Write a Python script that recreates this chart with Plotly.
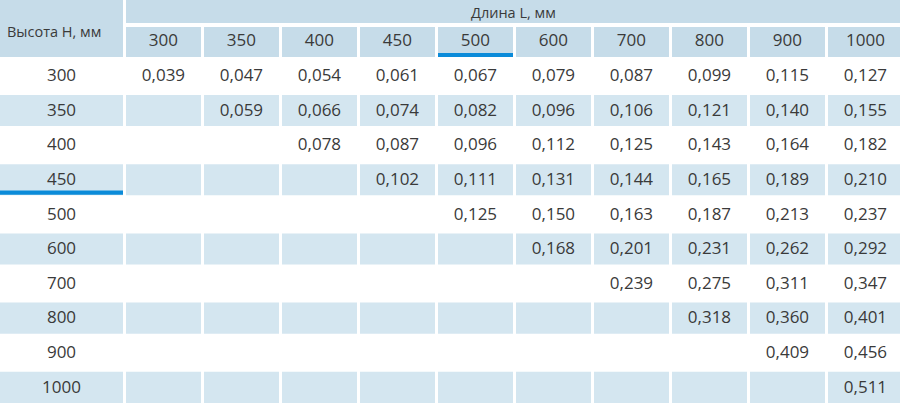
import plotly.graph_objects as go

# Data: mass table, height H (rows) x length L (columns), mm
heights = [300, 350, 400, 450, 500, 600, 700, 800, 900, 1000]
lengths = [300, 350, 400, 450, 500, 600, 700, 800, 900, 1000]

r300 = [0.039, 0.047, 0.054, 0.061, 0.067, 0.079, 0.087, 0.099, 0.115, 0.127]
r350 = [None, 0.059, 0.066, 0.074, 0.082, 0.096, 0.106, 0.121, 0.140, 0.155]
r400 = [None, None, 0.078, 0.087, 0.096, 0.112, 0.125, 0.143, 0.164, 0.182]
r450 = [None, None, None, 0.102, 0.111, 0.131, 0.144, 0.165, 0.189, 0.210]
r500 = [None, None, None, None, 0.125, 0.150, 0.163, 0.187, 0.213, 0.237]
r600 = [None, None, None, None, None, 0.168, 0.201, 0.231, 0.262, 0.292]
r700 = [None, None, None, None, None, None, 0.239, 0.275, 0.311, 0.347]
r800 = [None, None, None, None, None, None, None, 0.318, 0.360, 0.401]
r900 = [None, None, None, None, None, None, None, None, 0.409, 0.456]
r1000 = [None, None, None, None, None, None, None, None, None, 0.511]
rows = [r300, r350, r400, r450, r500, r600, r700, r800, r900, r1000]

row_title = "Высота H, мм"
col_title = "Длина L, мм"
marked_height = 450
marked_length = 500

# layout (pixel sizes -> axis units)
PX_X = 78.0     # column pitch
PX_Y = 34.6     # row pitch
LABEL_W = 126   # label column incl. gap
HEAD_H = 59     # header block height
HEAD_BLUE = "#c6dce9"
BODY_BLUE = "#d4e6f0"
ACCENT = "#0b8bd9"
TEXT = "#3a3a3a"
FONT = "Open Sans"
NUM_SIZE = 17

x0 = -LABEL_W / PX_X
y0 = -HEAD_H / PX_Y
gx = 3 / PX_X


def py(p):
    return (p - HEAD_H) / PX_Y


fig = go.Figure()


def rect(xa, xb, ya, yb, color):
    fig.add_shape(type="rect", xref="x", yref="y", x0=xa, x1=xb, y0=ya, y1=yb,
                  fillcolor=color, line_width=0, layer="below")


# header cells
rect(x0, -gx, y0, py(57), HEAD_BLUE)
rect(0, 20, y0, py(23), HEAD_BLUE)
for k, L in enumerate(lengths):
    rect(k, k + 1 - gx, py(27), py(57), HEAD_BLUE)

# body striped rows
for i, H in enumerate(heights):
    if i % 2 == 1:
        rect(x0, -gx, i + 0.04, i + 0.94, BODY_BLUE)
        for k in range(len(lengths)):
            rect(k, k + 1 - gx, i + 0.04, i + 0.94, BODY_BLUE)

# accent bars
k = lengths.index(marked_length)
rect(k, k + 1 - gx, py(53), py(57), ACCENT)
i = heights.index(marked_height)
rect(x0, -gx, i + 0.80, i + 0.92, ACCENT)

# header numbers
fig.add_trace(go.Scatter(
    x=[k + 0.48 for k in range(len(lengths))], y=[py(42)] * len(lengths),
    text=[str(L) for L in lengths], mode="text",
    textfont=dict(family=FONT, size=NUM_SIZE, color=TEXT), hoverinfo="skip"))

# row labels
fig.add_trace(go.Scatter(
    x=[x0 / 2 - gx / 2] * len(heights), y=[i + 0.52 for i in range(len(heights))],
    text=[str(H) for H in heights], mode="text",
    textfont=dict(family=FONT, size=NUM_SIZE, color=TEXT), hoverinfo="skip"))

# values
vx, vy, vt = [], [], []
for i, row in enumerate(rows):
    for k, v in enumerate(row):
        if v is not None:
            vx.append(k + 0.48)
            vy.append(i + 0.52)
            vt.append(f"{v:.3f}".replace(".", ","))
fig.add_trace(go.Scatter(
    x=vx, y=vy, text=vt, mode="text",
    textfont=dict(family=FONT, size=NUM_SIZE, color=TEXT), hoverinfo="skip"))

fig.add_annotation(x=x0 + 5 / PX_X, y=py(31), xref="x", yref="y", text=row_title,
                   showarrow=False, xanchor="left", yanchor="middle",
                   font=dict(family=FONT, size=14.5, color=TEXT))
fig.add_annotation(x=(900 - LABEL_W) / PX_X / 2, y=py(12), xref="x", yref="y",
                   text=col_title, showarrow=False, xanchor="center", yanchor="middle",
                   font=dict(family=FONT, size=14.5, color=TEXT))

fig.update_layout(
    width=900, height=405, margin=dict(l=0, r=0, t=0, b=0),
    paper_bgcolor="white", plot_bgcolor="white", showlegend=False,
    xaxis=dict(range=[x0, (900 - LABEL_W) / PX_X], visible=False, fixedrange=True),
    yaxis=dict(range=[10, y0], visible=False, fixedrange=True),
)

# page body has a default 8px margin; drop it so the table sits at the corner
fig.write_html("out.html", config={"displayModeBar": False},
               post_script="document.body.style.margin='0';")
